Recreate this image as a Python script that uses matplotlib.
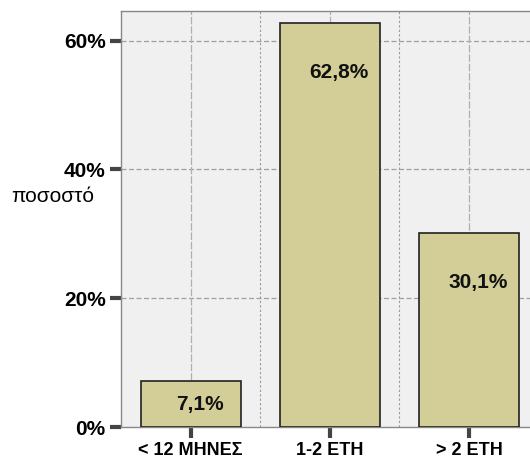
import matplotlib.pyplot as plt

categories = ['< 12 ΜΗΝΕΣ', '1-2 ΕΤΗ', '> 2 ΕΤΗ']
percent = [7.1, 62.8, 30.1]
value_labels = ['7,1%', '62,8%', '30,1%']
yticks = [0, 20, 40, 60]
ytick_labels = ['0%', '20%', '40%', '60%']

plt.rcParams['font.family'] = ['Liberation Sans', 'DejaVu Sans']

fig = plt.figure(figsize=(5.3, 4.61), dpi=100)
W, H = 530, 461
ax = fig.add_axes([121 / W, 1 - 427 / H, (538.7 - 121) / W, (427 - 11) / H])
ax.set_facecolor('#f0f0f0')

x = list(range(len(categories)))
ax.bar(x, percent, width=0.718, color='#d3ce97', edgecolor='#222222',
       linewidth=1.2, zorder=3)

for xi, v, lab in zip(x, percent, value_labels):
    ax.text(xi + 0.068, max(v - 7.7, v / 2), lab, ha='center', va='center',
            fontsize=15, fontweight='bold', color='#111111', zorder=4)

ax.set_xlim(-0.5, 2.5)
ax.set_ylim(0, 64.6)

# grid lines
for yv in yticks[1:]:
    ax.axhline(yv, color='#a0a0a0', lw=0.9, ls=(0, (4, 2)), zorder=1)
for xi in x:
    ax.axvline(xi, color='#b0b0b0', lw=0.9, ls=(0, (6, 1.5)), zorder=1)
for xb in [0.5, 1.5]:
    ax.axvline(xb, color='#999999', lw=0.8, ls=(0, (2, 2)), zorder=1)

ax.set_yticks(yticks)
ax.set_yticklabels(ytick_labels, fontsize=15, fontweight='bold')
ax.set_xticks(x)
ax.set_xticklabels(categories, fontsize=13, fontweight='bold')
ax.tick_params(axis='both', length=8, width=3, color='#444444', pad=3)

for side in ['left', 'bottom', 'top', 'right']:
    ax.spines[side].set_color('#888888')
    ax.spines[side].set_linewidth(1.0)

ax.set_ylabel('ποσοστό', rotation=0, fontsize=15, ha='center', va='center')
ax.yaxis.set_label_coords((53 - 121) / (538.7 - 121), (427 - 196) / (427 - 11))

fig.savefig('out.png', dpi=100)
